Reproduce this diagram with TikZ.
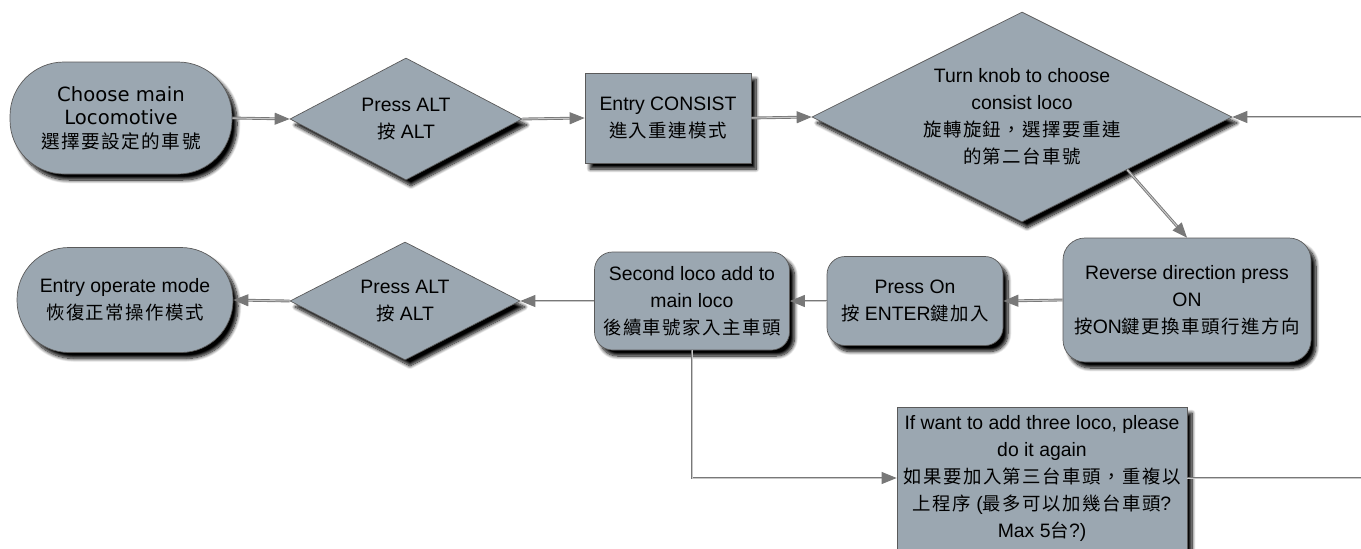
\documentclass[tikz,border=0pt]{standalone}
\usepackage{fontspec}
\setmainfont{Liberation Sans}
\newfontfamily\dejavu{DejaVu Sans}
\newfontfamily\cjk[LetterSpace=8,Scale=0.95]{Noto Sans CJK TC}
\newcommand\zh[1]{{\cjk #1}}
\usetikzlibrary{shapes.geometric,arrows.meta,shadows.blur}
\definecolor{boxfill}{RGB}{155,167,177}
\definecolor{boxline}{RGB}{90,90,90}
\definecolor{connline}{RGB}{120,120,120}
\definecolor{connlight}{RGB}{200,200,200}
\tikzset{
  txt/.style={align=center, inner sep=0pt, font=\fontsize{19.4}{27}\selectfont},
  base/.style={draw=boxline, line width=0.7pt, fill=boxfill, txt,
    blur shadow={shadow xshift=5pt, shadow yshift=-6pt, shadow blur steps=10, shadow blur radius=3.5pt, shadow opacity=100}},
  term/.style={base, rectangle, rounded corners=#1},
  rbox/.style={base, rectangle, rounded corners=18pt},
  sbox/.style={base, rectangle},
  dia/.style={base, diamond},
  conn/.style={draw=connline, line width=0.9pt, double=connlight, double distance=1pt,
    -{Triangle[length=15pt,width=12pt,fill=connline]}},
  plain/.style={draw=connline, line width=0.9pt, double=connlight, double distance=1pt},
}
\begin{document}
\begin{tikzpicture}[x=1pt,y=-1pt]
\useasboundingbox (0,0) rectangle (1361,549);
% nodes
\node[term=54pt, minimum width=222pt, minimum height=112pt, font=\dejavu\fontsize{19.6}{23.5}\selectfont] (t1) at (121,118)
  {Choose main\\Locomotive\\\zh{選擇要設定的車號}};
\node[dia, minimum width=232pt, minimum height=122pt, label={[txt]center:{Press ALT\\\zh{按} ALT}}] (d1) at (406,119) {};
\node[sbox, minimum width=166pt, minimum height=90pt] (r1) at (668,118)
  {Entry CONSIST\\\zh{進入重連模式}};
\node[dia, minimum width=420pt, minimum height=210pt,
  label={[txt]center:{Turn knob to choose\\consist loco\\\zh{旋轉旋鈕，選擇要重連}\\\zh{的第二台車號}}}] (bd) at (1022,117) {};
\node[base, rounded corners=22pt, minimum width=248pt, minimum height=124pt] (rev) at (1187,300)
  {Reverse direction press\\ON\\\zh{按}ON\zh{鍵更換車頭行進方向}};
\node[rbox, minimum width=176pt, minimum height=89pt] (on) at (915,301)
  {Press On\\\zh{按} ENTER\zh{鍵加入}};
\node[rbox, minimum width=195pt, minimum height=98pt] (sec) at (692,301)
  {Second loco add to\\main loco\\\zh{後續車號家入主車頭}};
\node[dia, minimum width=230pt, minimum height=118pt, label={[txt]center:{Press ALT\\\zh{按} ALT}}] (d2) at (405,301) {};
\node[term=52pt, minimum width=216pt, minimum height=105pt] (t2) at (125,300)
  {Entry operate mode\\\zh{恢復正常操作模式}};
\node[sbox, minimum width=290pt, minimum height=142pt] (r3) at (1042,478)
  {If want to add three loco, please\\do it again\\\zh{如果要加入第三台車頭，重複以}\\\zh{上程序} (\zh{最多可以加幾台車頭}?\\Max 5\zh{台}?)};
\coordinate (in) at (1361,117);
\coordinate (out) at (1361,478);
% connectors
\draw[conn] (t1.east) -- (d1.west);
\draw[conn] (d1.east) -- (r1.west);
\draw[conn] (r1.east) -- (bd.west);
\draw[conn] (in) -- (bd.east);
\draw[conn] (bd.south east) -- (rev.north);
\draw[conn] (rev.west) -- (on.east);
\draw[conn] (on.west) -- (sec.east);
\draw[conn] (sec.west) -- (d2.east);
\draw[conn] (d2.west) -- (t2.east);
\draw[conn] (sec.south) |- (r3.west);
\draw[plain] (r3.east) -- (out);
\end{tikzpicture}
\end{document}
